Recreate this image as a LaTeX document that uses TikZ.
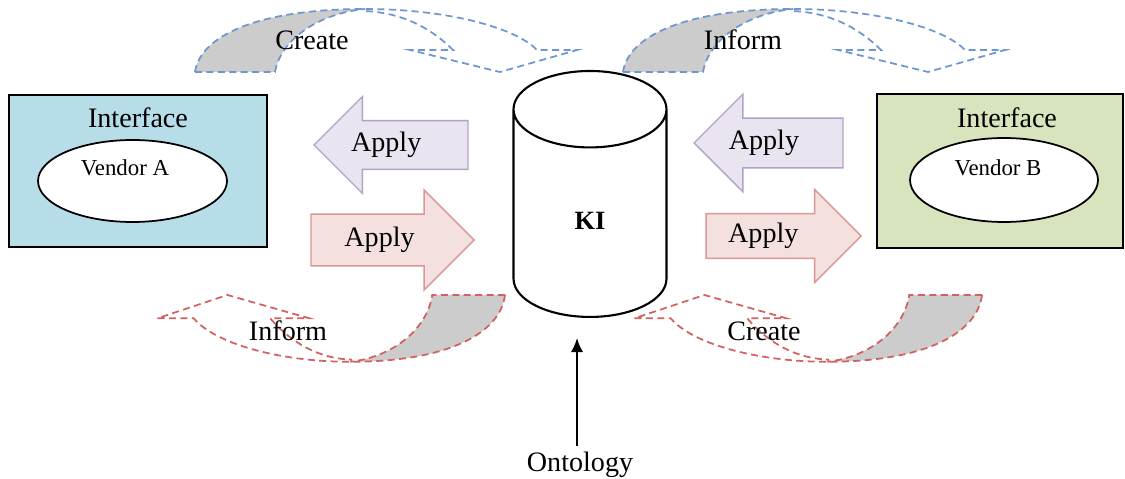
\documentclass[tikz,border=0pt]{standalone}
\usepackage{fontspec}
\setmainfont{Liberation Serif}
\usetikzlibrary{shapes.geometric,shapes.arrows,arrows.meta}

\definecolor{ifaceblue}{HTML}{B7DDE8}
\definecolor{ifacegreen}{HTML}{D7E4BD}
\definecolor{applylilac}{HTML}{E9E4F0}
\definecolor{applylilacline}{HTML}{B3A2C7}
\definecolor{applypink}{HTML}{F4E0DF}
\definecolor{applypinkline}{HTML}{D99694}
\definecolor{flowblue}{HTML}{6F97CF}
\definecolor{flowred}{HTML}{D2625F}

\tikzset{
  pics/bendflow/.style={code={
    \fill[gray!40] (0,0) .. controls (5,-35) and (60,-63) .. (170,-63)
      .. controls (120,-58) and (85,-30) .. (80,0) -- cycle;
    \draw[#1, line width=1pt, dash pattern=on 4pt off 2.5pt]
      (0,0) .. controls (5,-35) and (60,-63) .. (170,-63)
      .. controls (250,-63) and (320,-45) .. (342,-22) -- (382,-22)
      -- (305,0) -- (215,-22) -- (258,-22)
      .. controls (235,-45) and (205,-60) .. (168,-61)
      (0,0) -- (80,0) .. controls (85,-30) and (120,-58) .. (170,-63);
  }},
  applyarrow/.style={single arrow, single arrow tip angle=90,
    single arrow head extend=0.48cm, text height=11pt, text depth=3.5pt,
    line width=0.8pt, anchor=tip},
}

\begin{document}
\begin{tikzpicture}[x=0.02cm, y=-0.02cm,
    every node/.style={font=\fontsize{16}{19}\selectfont}]
  \useasboundingbox (0,0) rectangle (1125,479);

  % vendor A side
  \node (ifacea) at (138,171)
    [draw, line width=1pt, fill=ifaceblue, minimum width=5.16cm, minimum height=3.04cm] {};
  \node (ifacealabel) at (138,118) {Interface};
  \node (vendora) at (132.5,181)
    [draw, ellipse, line width=1pt, fill=white, minimum width=3.78cm, minimum height=1.64cm] {};
  \node (vendoralabel) at (125,168) [font=\fontsize{13}{15}\selectfont] {Vendor A};

  % vendor B side
  \node (ifaceb) at (1000,171)
    [draw, line width=1pt, fill=ifacegreen, minimum width=4.92cm, minimum height=3.08cm] {};
  \node (ifaceblabel) at (1007,118) {Interface};
  \node (vendorb) at (1004,180)
    [draw, ellipse, line width=1pt, fill=white, minimum width=3.76cm, minimum height=1.68cm] {};
  \node (vendorblabel) at (998,168) [font=\fontsize{13}{15}\selectfont] {Vendor B};

  % knowledge store
  \node (ki) at (590,318)
    [cylinder, shape border rotate=90, draw, line width=1.2pt, aspect=1.8,
     minimum width=3.06cm, minimum height=4.92cm, anchor=south,
     font=\fontsize{15}{18}\selectfont\bfseries] {KI};
  \node (onto) at (580,465) {Ontology};
  \draw[line width=1.2pt, -{Latex[length=8pt,width=7pt]}, shorten >=0.4cm]
    (onto.north -| 577,0) -- (ki.south -| 577,0);

  % apply arrows
  \node (applyal) at (313,145)
    [applyarrow, shape border rotate=180, draw=applylilacline, fill=applylilac,
     inner ysep=0.22cm, minimum height=3.08cm] {\hspace*{-0.34cm}Apply\hspace*{0.34cm}};
  \node (applyar) at (475,240)
    [applyarrow, draw=applypinkline, fill=applypink,
     inner ysep=0.25cm, minimum height=3.26cm] {Apply};
  \node (applybl) at (693,143)
    [applyarrow, shape border rotate=180, draw=applylilacline, fill=applylilac,
     inner ysep=0.23cm, minimum height=2.98cm] {\hspace*{-0.34cm}Apply\hspace*{0.34cm}};
  \node (applybr) at (862,236)
    [applyarrow, draw=applypinkline, fill=applypink,
     inner ysep=0.18cm, minimum height=3.1cm] {\hspace*{-0.18cm}Apply\hspace*{0.18cm}};

  % bent flows
  \pic at (195,72) {bendflow=flowblue};
  \pic at (623,72) {bendflow=flowblue};
  \pic[xscale=-0.91, yscale=-1.06] at (505,295) {bendflow=flowred};
  \pic[xscale=-0.91, yscale=-1.06] at (982,295) {bendflow=flowred};
  \node (createa) at (312,40) {Create};
  \node (informa) at (743,40) {Inform};
  \node (informb) at (288,331) {Inform};
  \node (createb) at (764,331) {Create};
\end{tikzpicture}
\end{document}
